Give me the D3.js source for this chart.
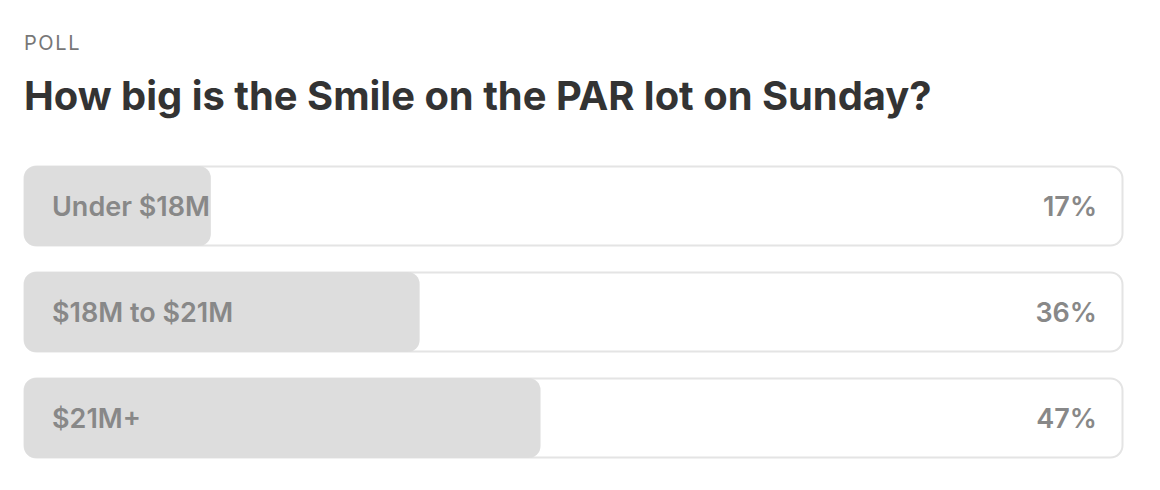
<!DOCTYPE html>
<html><head><meta charset="utf-8">
<script src="https://cdn.jsdelivr.net/npm/d3@7"></script>
<style>body{margin:0;background:#fff;}</style>
</head><body>
<script>
const categories = ["Under $18M", "$18M to $21M", "$21M+"];
const percents = [17, 36, 47];
const kicker = "POLL";
const title = "How big is the Smile on the PAR lot on Sunday?";

const W = 1160, H = 490;
const svg = d3.select("body").append("svg").attr("width", W).attr("height", H);
const font = "Inter, 'Open Sans', sans-serif";

svg.append("text").attr("x", 24).attr("y", 50).text(kicker)
  .attr("font-family", font).attr("font-size", 20).attr("letter-spacing", 1.6)
  .attr("fill", "#777");
svg.append("text").attr("x", 24).attr("y", 110).text(title)
  .attr("font-family", font).attr("font-size", 39.9).attr("font-weight", 700)
  .attr("fill", "#333");

const x = d3.scaleLinear().domain([0, 100]).range([24, 1123]);
const y = d3.scaleBand().domain(categories).range([166, 458]).paddingInner(26 / 106).paddingOuter(0);

const g = svg.selectAll("g.row").data(categories).join("g").attr("class", "row");
g.append("rect").attr("x", x(0) + 0.5).attr("y", d => y(d) + 0.5)
  .attr("width", x(100) - x(0) - 1).attr("height", y.bandwidth() - 1)
  .attr("rx", 12).attr("fill", "#fff").attr("stroke", "#e4e4e4").attr("stroke-width", 2);
g.append("rect").attr("x", x(0)).attr("y", d => y(d))
  .attr("width", (d, i) => x(percents[i]) - x(0)).attr("height", y.bandwidth())
  .attr("rx", 12).attr("fill", "#dddddd");
g.append("text").attr("x", 52).attr("y", d => y(d) + y.bandwidth() / 2 + 10)
  .text(d => d).attr("font-family", font).attr("font-size", 27).attr("font-weight", 600)
  .attr("fill", "#888");
g.append("text").attr("x", 1097).attr("y", d => y(d) + y.bandwidth() / 2 + 10)
  .attr("text-anchor", "end").text((d, i) => percents[i] + "%")
  .attr("font-family", font).attr("font-size", 27).attr("font-weight", 600)
  .attr("fill", "#888");
</script>
</body></html>
